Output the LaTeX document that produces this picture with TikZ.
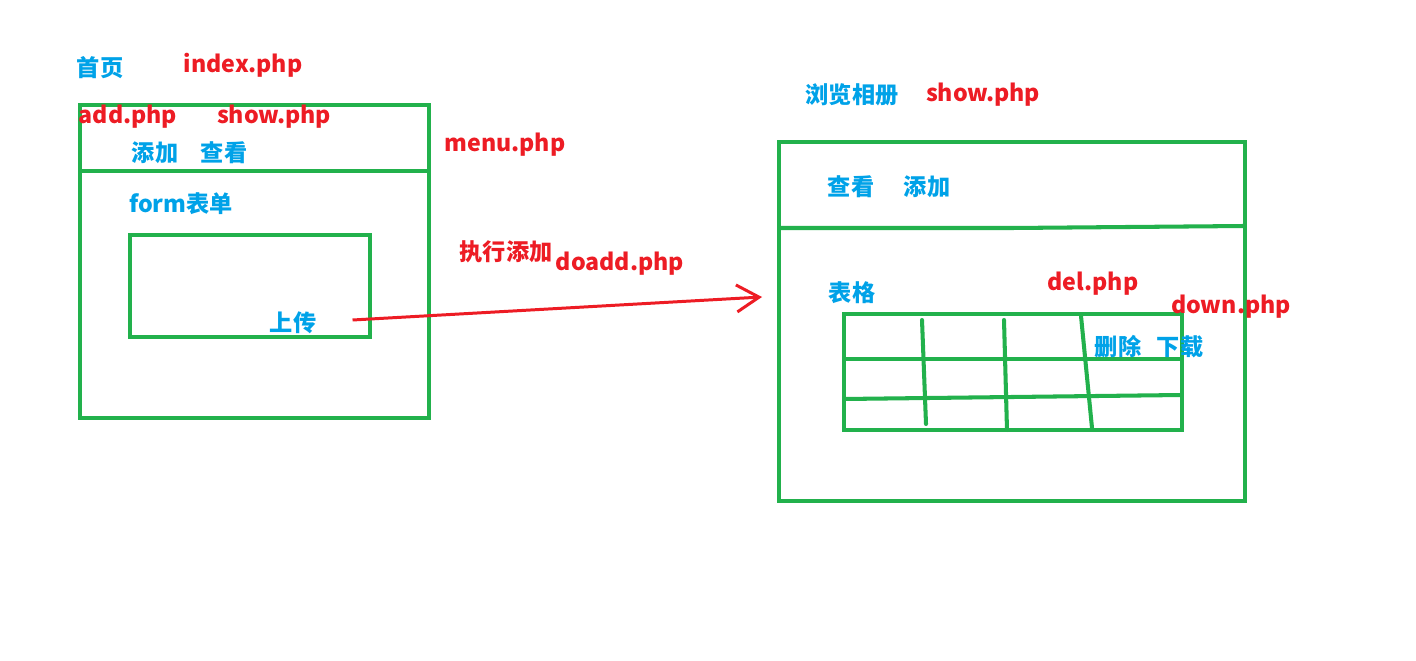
\documentclass[tikz,border=0pt]{standalone}
\usepackage{fontspec}
\setmainfont{Noto Sans CJK SC}
\usetikzlibrary{arrows.meta, positioning}
\definecolor{pgreen}{HTML}{22B14C}
\definecolor{pblue}{HTML}{00A2E8}
\definecolor{pred}{HTML}{ED1C24}

\begin{document}
\begin{tikzpicture}[
  x=0.02cm, y=-0.02cm,
  wire/.style={draw=pgreen, line width=2.3pt},
  page/.style={text=pblue, font=\fontsize{13.2}{15}\selectfont\bfseries, inner sep=0pt},
  file/.style={text=pred, font=\fontsize{13.2}{15}\selectfont\bfseries, inner sep=0pt},
  arr/.style={-{Straight Barb[length=4.5mm, width=5.4mm, line width=1.7pt]}, line width=1.7pt, pred},
]

% Background
\fill[white] (0,0) rectangle (1416,661);
\useasboundingbox (0,0) rectangle (1416,661);

% =============================================
% Left: index.php
% =============================================
\node[page] (home) at (100,68) {首页};
\node[file] (index) at (243,65) {index.php};

\draw[wire] (80,105) rectangle (429,418);
\draw[wire] (80,171) -- (429,171);
\node[file] (addphp) at (128,117) {add.php};
\node[file] (showphp) at (274,117) {show.php};
\node[page] (add) at (155,153) {添加};
\node[page] (view) at (224,153) {查看};
\node[file] (menu) at (505,145) {menu.php};

% form box
\node[page] (form) at (181,204) {form表单};
\draw[wire] (130,235) rectangle (370,337);
\node[page] (upload) at (293,323) {上传};

% =============================================
% Middle: doadd.php
% =============================================
\node[file] (doadd) at (506,252) {执行添加};
\node[file] (doaddphp) at (620,264) {doadd.php};

\coordinate (tip) at (762,297);
\draw[arr] ([xshift=0.72cm, yshift=0.06cm]upload.east) -- (tip);

% =============================================
% Right: show.php
% =============================================
\node[page] (browse) at (852,95) {浏览相册};
\node[file] (show) at (983,95) {show.php};

\draw[wire] (779,142) rectangle (1245,501);
\draw[wire] (779,228) -- (1012,228) -- (1245,226);
\node[page] (view2) at (851,187) {查看};
\node[page] (add2) at (927,187) {添加};

% table
\node[page] (table) at (852,293) {表格};
\draw[wire] (844,314) rectangle (1182,430);
\draw[wire] (844,359) -- (1182,359);
\draw[wire] (844,399) -- (1182,395);
\draw[wire, line cap=round] (922,320) -- (926,424);
\draw[wire, line cap=round] (1004,320) -- (1007,430);
\draw[wire, line cap=round] (1081,316) -- (1092,428);

\node[file] (del) at (1093,284) {del.php};
\node[file] (down) at (1231,307) {down.php};
\node[page] (delete) at (1118,347) {删除};
\node[page] (download) at (1180,347) {下载};

\end{tikzpicture}
\end{document}
